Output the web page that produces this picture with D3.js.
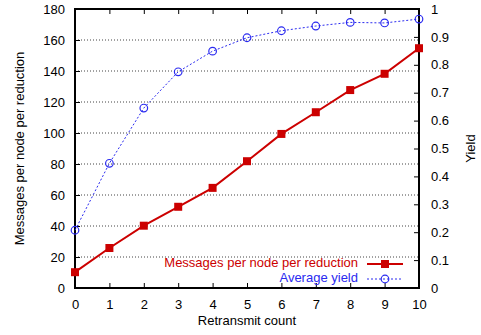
<!DOCTYPE html>
<html>
<head>
<meta charset="utf-8">
<script src="https://cdn.jsdelivr.net/npm/d3@7"></script>
<style>
  body { margin: 0; background: #fff; }
  svg { font-family: "Liberation Sans", Arial, sans-serif; }
</style>
</head>
<body>
<div id="viz"></div>
<script>
// data
const retransmits = [0, 1, 2, 3, 4, 5, 6, 7, 8, 9, 10];
const messages = [10.2, 25.8, 40.2, 52.4, 64.6, 81.8, 99.4, 113.4, 127.7, 138.2, 154.7];
const yieldAvg = [0.207, 0.447, 0.645, 0.775, 0.849, 0.897, 0.922, 0.939, 0.952, 0.950, 0.964];
const leftTicks = [0, 20, 40, 60, 80, 100, 120, 140, 160, 180];
const rightTicks = [0, 0.1, 0.2, 0.3, 0.4, 0.5, 0.6, 0.7, 0.8, 0.9, 1];

const W = 481, H = 335;
const margin = {top: 9, right: 62, bottom: 47, left: 75};

const svg = d3.select("#viz").append("svg").attr("width", W).attr("height", H);

const x = d3.scaleLinear().domain([0, 10]).range([margin.left, W - margin.right]);
const yL = d3.scaleLinear().domain([0, 180]).range([H - margin.bottom, margin.top]);
const yR = d3.scaleLinear().domain([0, 1]).range([H - margin.bottom, margin.top]);

const red = "#cc0000", blue = "#2a2af0";

// grid
svg.append("g").selectAll("line")
  .data(leftTicks.filter(d => d > 0 && d < 180))
  .join("line")
  .attr("x1", x(0)).attr("x2", x(10))
  .attr("y1", d => yL(d)).attr("y2", d => yL(d))
  .attr("stroke", "#444").attr("stroke-width", 1)
  .attr("stroke-dasharray", "1,2");

// axes (ticks inward, gnuplot style)
const fs = "13px";
const axB = svg.append("g").attr("transform", `translate(0,${yL(0)})`)
  .call(d3.axisBottom(x).tickValues(retransmits).tickSize(-5).tickPadding(12));
const axT = svg.append("g").attr("transform", `translate(0,${yL(180)})`)
  .call(d3.axisTop(x).tickValues(retransmits).tickSize(-5).tickFormat(""));
const axL = svg.append("g").attr("transform", `translate(${x(0)},0)`)
  .call(d3.axisLeft(yL).tickValues(leftTicks).tickSize(-5).tickPadding(10));
const axR = svg.append("g").attr("transform", `translate(${x(10)},0)`)
  .call(d3.axisRight(yR).tickValues(rightTicks).tickSize(-5).tickPadding(12)
    .tickFormat(d3.format("~g")));

[axB, axT, axL, axR].forEach(a => {
  a.select(".domain").remove();
  a.selectAll(".tick line").attr("stroke", "#000").attr("stroke-width", 1);
  a.selectAll("text").attr("font-size", fs).attr("fill", "#000")
    .style("font-family", "'Liberation Sans', Arial, sans-serif");
});
axR.selectAll("text").attr("text-anchor", "start");

// frame
svg.append("rect")
  .attr("x", x(0)).attr("y", yL(180))
  .attr("width", x(10) - x(0)).attr("height", yL(0) - yL(180))
  .attr("fill", "none").attr("stroke", "#000").attr("stroke-width", 2);

// axis titles
svg.append("text")
  .attr("transform", `translate(21,${(yL(0) + yL(180)) / 2}) rotate(-90)`)
  .attr("text-anchor", "middle").attr("dominant-baseline", "middle")
  .attr("font-size", fs).text("Messages per node per reduction");
svg.append("text")
  .attr("transform", `translate(472,${(yL(0) + yL(180)) / 2}) rotate(-90)`)
  .attr("text-anchor", "middle").attr("dominant-baseline", "middle")
  .attr("font-size", fs).text("Yield");
svg.append("text")
  .attr("x", (x(0) + x(10)) / 2).attr("y", 322)
  .attr("text-anchor", "middle").attr("dominant-baseline", "middle")
  .attr("font-size", fs).text("Retransmit count");

// average yield series
const blueLine = d3.line().x((d, i) => x(retransmits[i])).y(d => yR(d));
svg.append("path").datum(yieldAvg)
  .attr("d", blueLine).attr("fill", "none")
  .attr("stroke", blue).attr("stroke-width", 1).attr("stroke-dasharray", "2,2");
svg.append("g").selectAll("circle").data(yieldAvg).join("circle")
  .attr("cx", (d, i) => x(retransmits[i])).attr("cy", d => yR(d)).attr("r", 3.8)
  .attr("fill", "none").attr("stroke", blue).attr("stroke-width", 1.2);

// messages series
const redLine = d3.line().x((d, i) => x(retransmits[i])).y(d => yL(d));
svg.append("path").datum(messages)
  .attr("d", redLine).attr("fill", "none")
  .attr("stroke", red).attr("stroke-width", 2);
svg.append("g").selectAll("rect").data(messages).join("rect")
  .attr("x", (d, i) => x(retransmits[i]) - 4).attr("y", d => yL(d) - 4)
  .attr("width", 8).attr("height", 8).attr("fill", red);

// legend
const lg = svg.append("g");
const lx = 358, ly1 = 264, ly2 = 279;
lg.append("text").attr("x", lx).attr("y", ly1).attr("text-anchor", "end")
  .attr("dominant-baseline", "middle").attr("font-size", fs).attr("fill", red)
  .text("Messages per node per reduction");
lg.append("line").attr("x1", 367).attr("x2", 403).attr("y1", ly1).attr("y2", ly1)
  .attr("stroke", red).attr("stroke-width", 2);
lg.append("rect").attr("x", 381).attr("y", ly1 - 4).attr("width", 8).attr("height", 8).attr("fill", red);
lg.append("text").attr("x", lx).attr("y", ly2).attr("text-anchor", "end")
  .attr("dominant-baseline", "middle").attr("font-size", fs).attr("fill", blue)
  .text("Average yield");
lg.append("line").attr("x1", 367).attr("x2", 403).attr("y1", ly2).attr("y2", ly2)
  .attr("stroke", blue).attr("stroke-width", 1).attr("stroke-dasharray", "2,2");
lg.append("circle").attr("cx", 385).attr("cy", ly2).attr("r", 3.8)
  .attr("fill", "none").attr("stroke", blue).attr("stroke-width", 1.2);
</script>
</body>
</html>
